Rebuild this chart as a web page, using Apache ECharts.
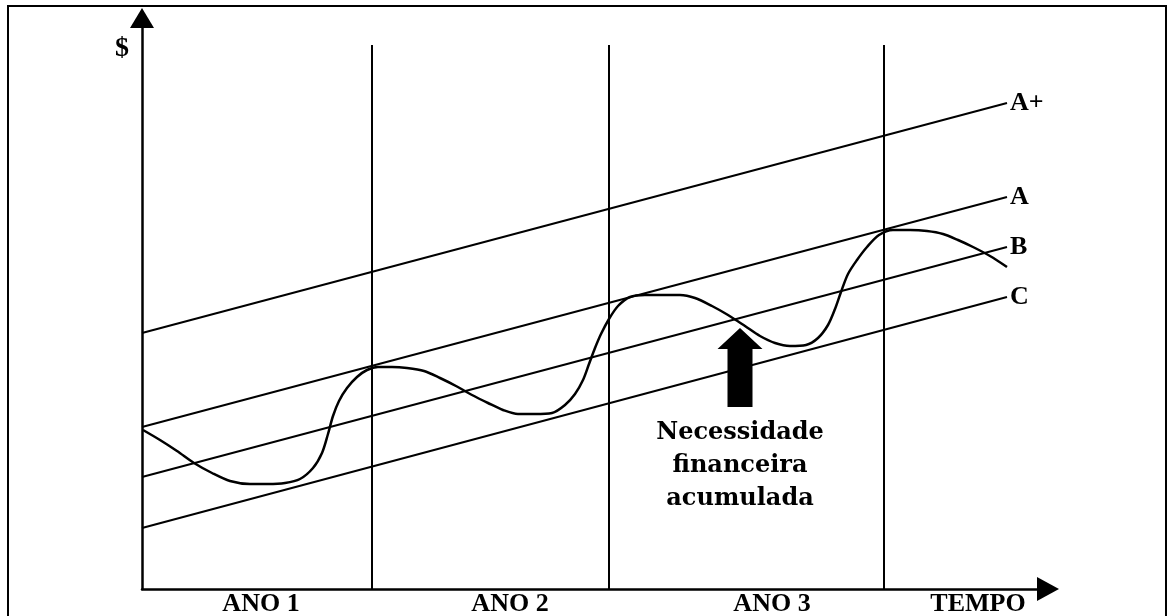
<!DOCTYPE html>
<html>
<head>
<meta charset="utf-8">
<script src="https://cdn.jsdelivr.net/npm/echarts@6/dist/echarts.min.js"></script>
<style>
html,body{margin:0;padding:0;background:#fff;}
#chart{width:1170px;height:616px;}
</style>
</head>
<body>
<div id="chart"></div>
<script>
// ---- data (units) ----
const xMax = 906;
const yMax = 571;

const trendNames = ['A+', 'A', 'B', 'C'];
const trendStart = [256, 162, 112, 61];
const trendEnd = [486, 392, 342, 292];
const trendEndX = 865;

const curveX = [1, 18, 35, 52, 70, 88, 108, 126, 143, 158, 171, 180, 186, 191, 197, 205, 215, 225, 236, 250, 265, 282, 298, 314, 330, 346, 361, 376, 393, 410, 423, 433, 441, 447, 453, 459, 467, 476, 488, 503, 520, 538, 553, 570, 586, 603, 618, 633, 648, 664, 676, 686, 693, 699, 706, 715, 725, 737, 751, 768, 785, 801, 816, 831, 848, 865];
const curveY = [159, 149, 138, 126, 116, 108, 105, 105, 106, 110, 121, 136, 155, 173, 188, 201, 212, 219, 222, 222, 221, 218, 211, 203, 194, 186, 179, 175, 175, 176, 184, 195, 209, 225, 241, 255, 270, 283, 292, 294, 294, 294, 291, 283, 274, 263, 253, 246, 243, 244, 251, 264, 280, 297, 315, 329, 342, 354, 359, 359, 358, 355, 349, 342, 333, 322];

const yearLineX = [230, 467, 742];
const yearLineTop = 544;

const periodLabels = ['ANO 1', 'ANO 2', 'ANO 3', 'TEMPO'];
const periodLabelX = [119, 368, 630, 836];
const periodLabelY = -15;

const axisLabelY = '$';
const axisLabelYPos = [-20, 540];

const noteLines = ['Necessidade', 'financeira', 'acumulada'];
const notePos = [598, 123];
const noteArrowPos = [598, 221.5];

// ---- chart ----
const chart = echarts.init(document.getElementById('chart'));
const serif = "'Liberation Serif', 'DejaVu Serif', serif";

const series = [];
trendNames.forEach((name, i) => {
  series.push({
    name: name,
    type: 'line',
    data: [[0, trendStart[i]], [trendEndX, trendEnd[i]]],
    symbol: 'none',
    silent: true,
    lineStyle: { color: '#000', width: 2 },
    endLabel: {
      show: true,
      formatter: name,
      color: '#000',
      fontFamily: serif,
      fontWeight: 'bold',
      fontSize: 26,
      distance: 3
    },
    z: 3
  });
});

series.push({
  name: 'curve',
  type: 'line',
  data: curveX.map((x, i) => [x, curveY[i]]),
  smooth: 0.3,
  symbol: 'none',
  silent: true,
  lineStyle: { color: '#000', width: 2.5 },
  z: 4,
  markLine: {
    silent: true,
    symbol: ['none', 'none'],
    label: { show: false },
    lineStyle: { color: '#000', width: 2, type: 'solid' },
    data: yearLineX.map(x => [{ coord: [x, 0] }, { coord: [x, yearLineTop] }])
  }
});

series.push({
  name: 'arrow',
  type: 'scatter',
  data: [noteArrowPos],
  symbol: 'path://M22.5,0 L45,21 L35,21 L35,79 L10,79 L10,21 L0,21 Z',
  symbolSize: [45, 79],
  itemStyle: { color: '#000', opacity: 1 },
  silent: true,
  z: 5
});

chart.setOption({
  animation: false,
  backgroundColor: '#fff',
  grid: { left: 142, top: 18, right: 122, bottom: 27, containLabel: false },
  xAxis: {
    type: 'value', min: 0, max: xMax,
    splitLine: { show: false },
    axisTick: { show: false },
    axisLabel: { show: false },
    axisLine: {
      show: true, onZero: false,
      lineStyle: { color: '#000', width: 2.5 },
      symbol: ['none', 'triangle'],
      symbolSize: [24, 22]
    }
  },
  yAxis: {
    type: 'value', min: 0, max: yMax,
    splitLine: { show: false },
    axisTick: { show: false },
    axisLabel: { show: false },
    axisLine: {
      show: true, onZero: false,
      lineStyle: { color: '#000', width: 2.5 },
      symbol: ['none', 'triangle'],
      symbolSize: [24, 20]
    }
  },
  series: series
});

const px = p => chart.convertToPixel({ gridIndex: 0 }, p);
const graphics = [
  {
    type: 'rect',
    shape: { x: 8, y: 6, width: 1158, height: 640 },
    style: { fill: null, stroke: '#000', lineWidth: 2 },
    silent: true, z: 0
  }
];
periodLabels.forEach((t, i) => {
  const p = px([periodLabelX[i], periodLabelY]);
  graphics.push({
    type: 'text', x: p[0], y: p[1],
    style: {
      text: t, fill: '#000', font: "bold 26px " + serif,
      textAlign: 'center', textVerticalAlign: 'middle'
    },
    silent: true, z: 10
  });
});
const pd = px(axisLabelYPos);
graphics.push({
  type: 'text', x: pd[0], y: pd[1],
  style: {
    text: axisLabelY, fill: '#000', font: "bold 28px " + serif,
    textAlign: 'center', textVerticalAlign: 'middle'
  },
  silent: true, z: 10
});
const pn = px(notePos);
graphics.push({
  type: 'text', x: pn[0], y: pn[1],
  style: {
    text: noteLines.join('\n'), fill: '#000',
    font: "bold 24px 'DejaVu Serif', serif",
    lineHeight: 33,
    textAlign: 'center', textVerticalAlign: 'middle'
  },
  silent: true, z: 10
});
chart.setOption({ graphic: graphics });
</script>
</body>
</html>
